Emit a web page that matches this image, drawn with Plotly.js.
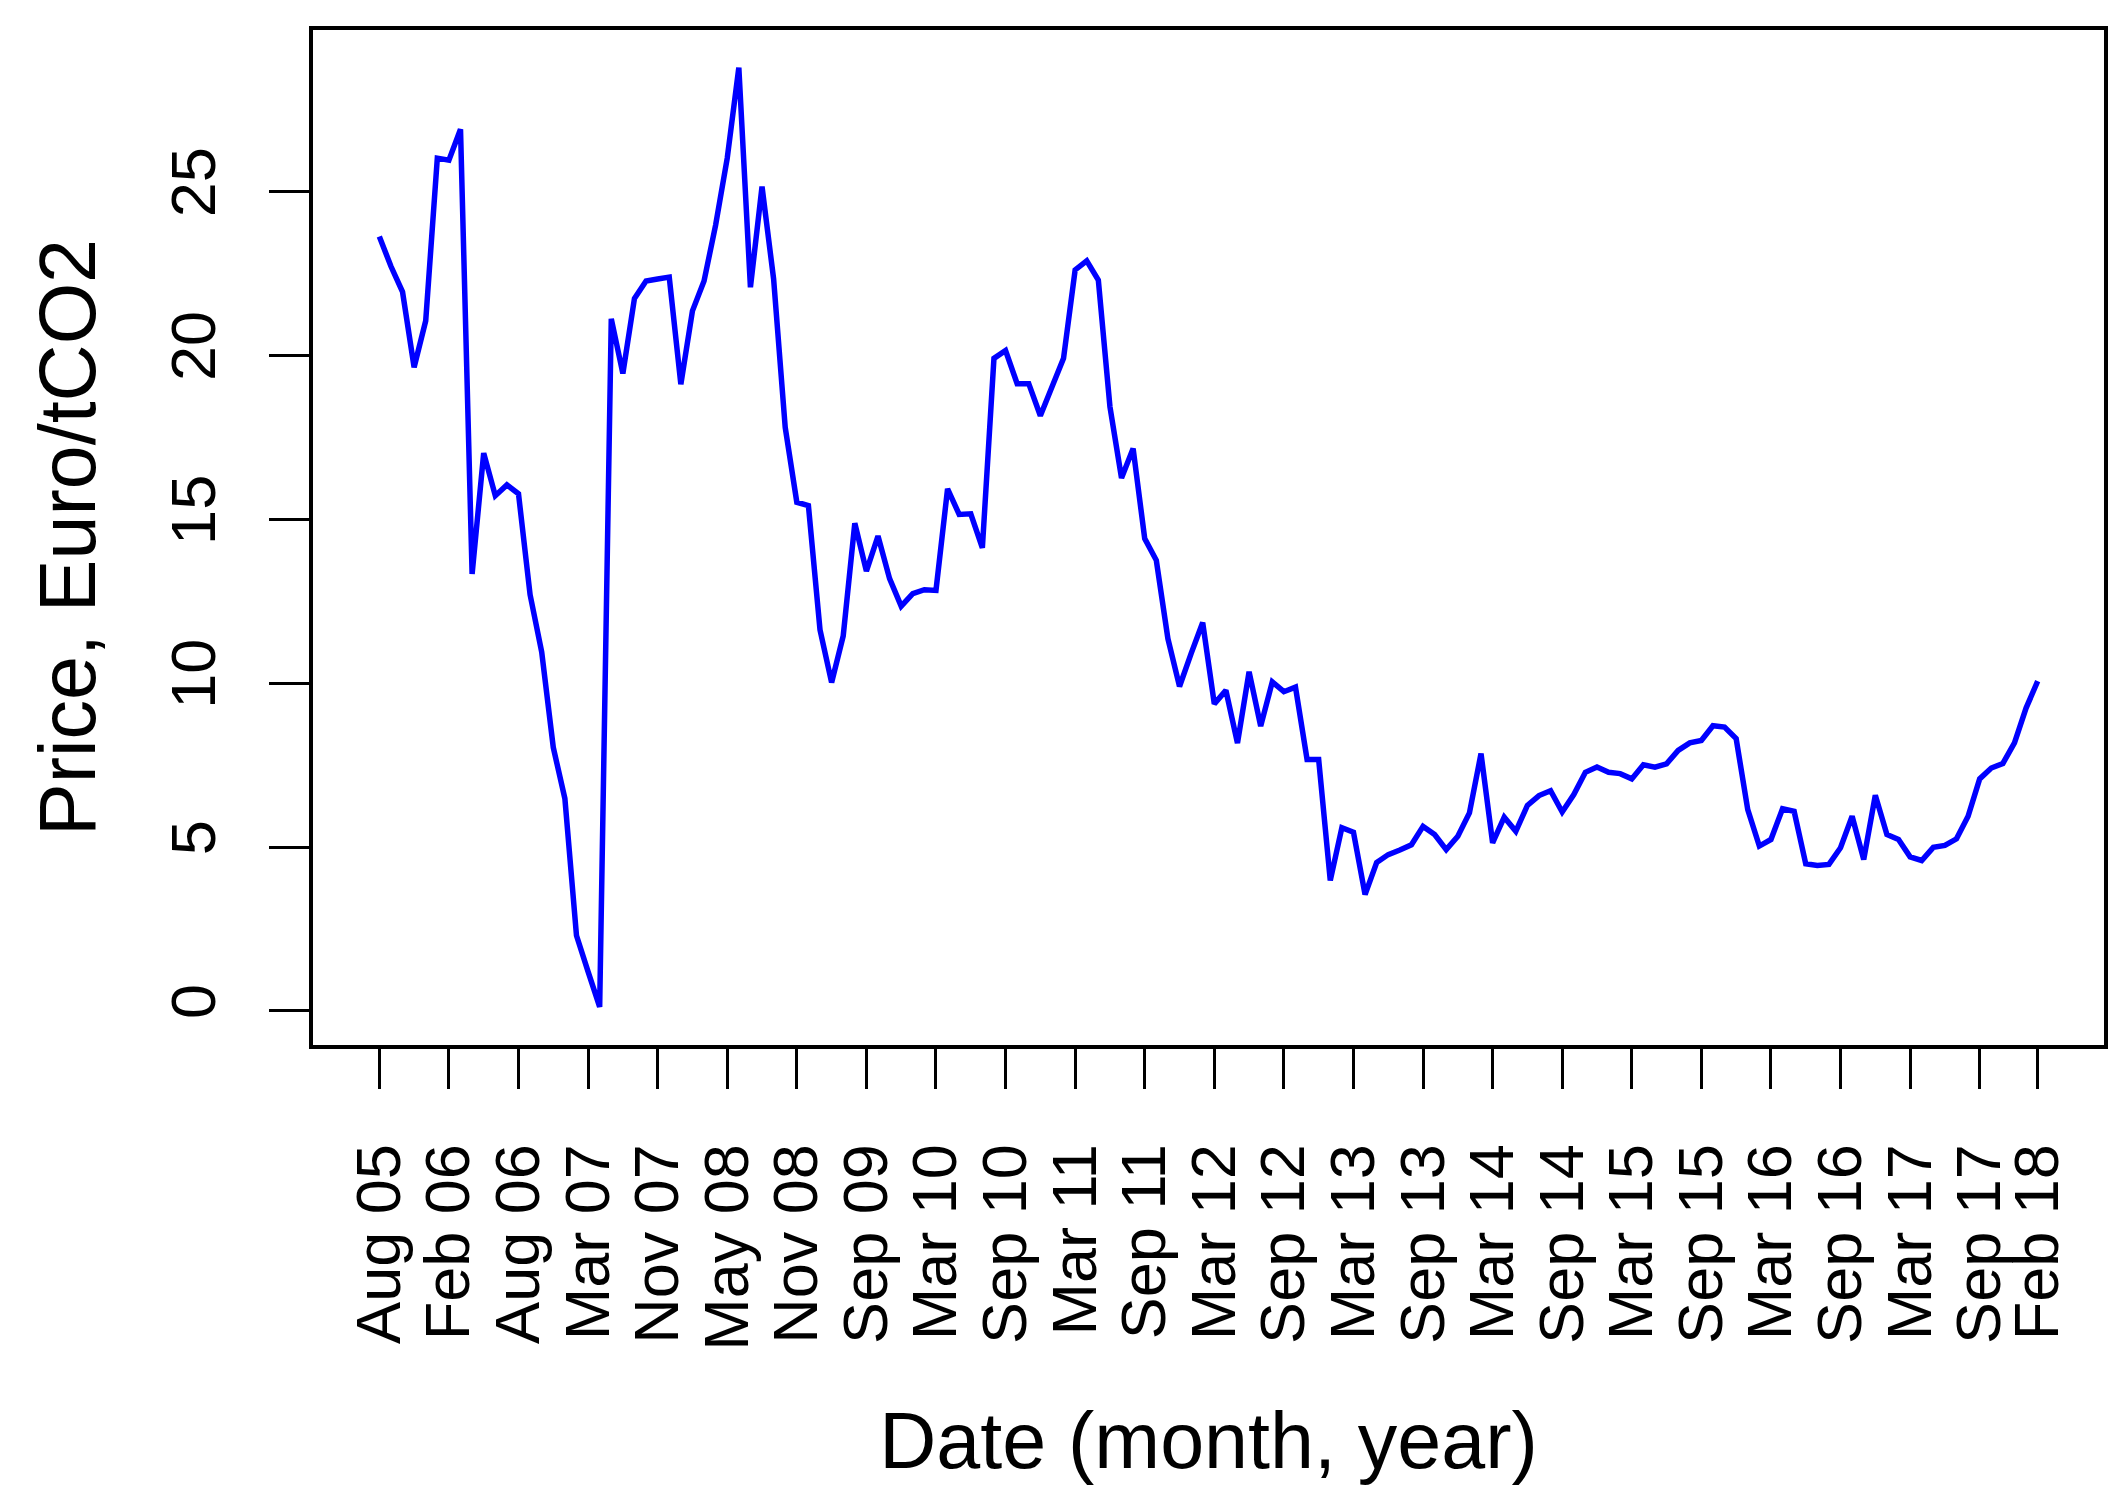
<!DOCTYPE html>
<html>
<head>
<meta charset="utf-8">
<script src="https://cdn.plot.ly/plotly-3.0.1.min.js"></script>
<style>html,body{margin:0;padding:0;background:#fff;}#chart{width:2128px;height:1510px;}</style>
</head>
<body>
<div id="chart"></div>
<script>
// Observation index (monthly observations, 144 points)
const obsIndex = Array.from({length: 144}, (_, k) => k + 1);

// Price, Euro/tCO2
const price = [
  23.63, 22.72, 21.94, 19.64, 21.06, 26.02, 25.96, 26.90, 13.33, 17.02,
  15.72, 16.05, 15.78, 12.70, 10.95, 8.04, 6.48, 2.30, 1.20, 0.12,
  21.12, 19.45, 21.74, 22.27, 22.33, 22.39, 19.12, 21.36, 22.27, 23.98,
  26.02, 28.78, 22.08, 25.15, 22.33, 17.80, 15.52, 15.42, 11.63, 10.02,
  11.44, 14.88, 13.42, 14.49, 13.19, 12.35, 12.73, 12.85, 12.83, 15.93,
  15.15, 15.17, 14.13, 19.91, 20.15, 19.14, 19.14, 18.16, 19.04, 19.91,
  22.61, 22.89, 22.30, 18.44, 16.26, 17.16, 14.41, 13.75, 11.36, 9.90,
  10.90, 11.85, 9.37, 9.78, 8.17, 10.35, 8.69, 10.04, 9.74, 9.88,
  7.67, 7.67, 3.98, 5.59, 5.45, 3.55, 4.53, 4.77, 4.91, 5.07,
  5.63, 5.38, 4.92, 5.33, 6.04, 7.85, 5.13, 5.91, 5.48, 6.27,
  6.57, 6.72, 6.07, 6.60, 7.28, 7.44, 7.28, 7.24, 7.08, 7.51,
  7.44, 7.54, 7.95, 8.18, 8.25, 8.70, 8.66, 8.31, 6.14, 5.03,
  5.23, 6.17, 6.09, 4.49, 4.44, 4.47, 4.98, 5.94, 4.62, 6.58,
  5.38, 5.23, 4.70, 4.59, 4.99, 5.05, 5.25, 5.94, 7.08, 7.41,
  7.55, 8.18, 9.24, 10.06
];

// X tick positions (observation index) and labels
const tickIndex = [1, 7, 13, 19, 25, 31, 37, 43, 49, 55, 61, 67, 73, 79, 85, 91, 97, 103, 109, 115, 121, 127, 133, 139, 144];
const tickLabels = ["Aug 05", "Feb 06", "Aug 06", "Mar 07", "Nov 07", "May 08", "Nov 08", "Sep 09", "Mar 10", "Sep 10",
  "Mar 11", "Sep 11", "Mar 12", "Sep 12", "Mar 13", "Sep 13", "Mar 14", "Sep 14", "Mar 15", "Sep 15",
  "Mar 16", "Sep 16", "Mar 17", "Sep 17", "Feb 18"];

// Y ticks
const yTicks = [0, 5, 10, 15, 20, 25];

const FONT = "Liberation Sans, Arial, Helvetica, sans-serif";

const trace = {
  x: obsIndex,
  y: price,
  type: "scatter",
  mode: "lines",
  line: {color: "#0000ff", width: 5.5},
  hoverinfo: "skip"
};

const layout = {
  width: 2128,
  height: 1510,
  margin: {l: 313, r: 24, t: 30, b: 465, pad: 0},
  paper_bgcolor: "#ffffff",
  plot_bgcolor: "#ffffff",
  showlegend: false,
  font: {family: FONT, color: "#000000", size: 63},
  xaxis: {
    range: [1 - 5.72, 144 + 5.72],
    tickmode: "array",
    tickvals: tickIndex,
    ticktext: tickLabels,
    tickangle: -90,
    ticks: "outside",
    ticklen: 40,
    tickwidth: 3,
    tickcolor: "#000",
    ticklabelstandoff: 30,
    tickfont: {family: FONT, size: 63, color: "#000"},
    showgrid: false,
    zeroline: false,
    showline: true,
    linecolor: "#000",
    linewidth: 4,
    mirror: true,
    automargin: false,
    title: {text: "Date (month, year)", font: {family: FONT, size: 79, color: "#000"}, standoff: 64}
  },
  yaxis: {
    range: [-1.04, 29.93],
    tickmode: "array",
    tickvals: yTicks,
    ticktext: yTicks.map(String),
    tickangle: -90,
    ticks: "outside",
    ticklen: 40,
    tickwidth: 3,
    tickcolor: "#000",
    ticklabelstandoff: 29,
    tickfont: {family: FONT, size: 63, color: "#000"},
    showgrid: false,
    zeroline: false,
    showline: true,
    linecolor: "#000",
    linewidth: 4,
    mirror: true,
    automargin: false,
    title: {text: "Price, Euro/tCO2", font: {family: FONT, size: 79, color: "#000"}, standoff: 37}
  }
};

Plotly.newPlot("chart", [trace], layout, {staticPlot: true, displayModeBar: false});
</script>
</body>
</html>
